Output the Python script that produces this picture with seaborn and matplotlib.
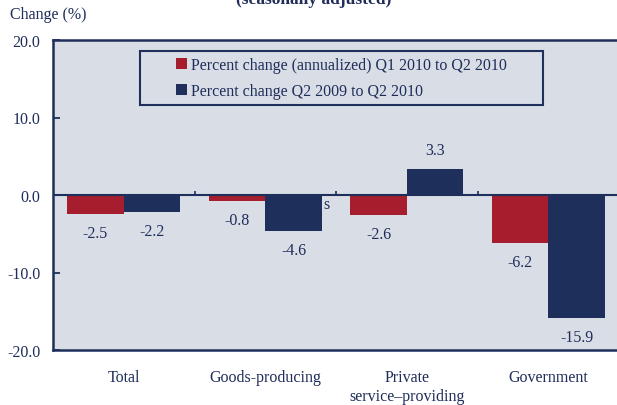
import matplotlib
matplotlib.use("Agg")
import matplotlib.pyplot as plt
import seaborn as sns
import pandas as pd
from matplotlib.patches import Rectangle

categories = ["Total", "Goods-producing", "Private\nservice\u2013providing", "Government"]
series_names = ["Percent change (annualized) Q1 2010 to Q2 2010",
                "Percent change Q2 2009 to Q2 2010"]
q1_to_q2_2010 = [-2.5, -0.8, -2.6, -6.2]
q2_2009_to_q2_2010 = [-2.2, -4.6, 3.3, -15.9]
y_ticks = [-20, -10, 0, 10, 20]

RED = "#A61E2E"
NAVY = "#1F2F5C"
BG = "#D9DEE6"
TXT = "#1F2D5A"
FS = 11.5

sns.set_theme(style="white")
plt.rcParams["font.family"] = ["Liberation Serif", "DejaVu Serif"]

df = pd.DataFrame({
    "category": categories * 2,
    "value": q1_to_q2_2010 + q2_2009_to_q2_2010,
    "series": [series_names[0]] * 4 + [series_names[1]] * 4,
})

fig = plt.figure(figsize=(6.17, 4.06), dpi=100)
ax = fig.add_axes([53 / 617, 55 / 406, 566 / 617, 310 / 406])
ax.set_facecolor(BG)

sns.barplot(data=df, x="category", y="value", hue="series",
            palette=[RED, NAVY], width=0.8, gap=0, saturation=1,
            linewidth=0, ax=ax, zorder=3)

ax.set_ylim(-20, 20)
ax.set_xlim(-0.5, 3.5)
ax.set_yticks(y_ticks)
ax.set_yticklabels([f"{v:.1f}" for v in y_ticks], color=TXT, fontsize=FS)
ax.tick_params(axis="y", direction="in", length=5, width=1.3, color=NAVY, pad=9, left=True)
ax.tick_params(axis="x", length=0, pad=14, labelsize=FS, labelcolor=TXT)
for lab in ax.get_xticklabels():
    lab.set_linespacing(1.22)
ax.set_xlabel("")
ax.set_ylabel("")

for side in ["left", "top", "bottom", "right"]:
    ax.spines[side].set_color(NAVY)
    ax.spines[side].set_linewidth(1.8)

ax.axhline(0, color=NAVY, lw=1.5, zorder=4)
ax.vlines([0.5, 1.5, 2.5], 0, 0.55, color=NAVY, lw=1.2, zorder=4)

for cont in ax.containers:
    ax.bar_label(cont, fmt="%.1f", padding=8, fontsize=FS, color=TXT)

ax.text(1.41, -1.16, "s", fontsize=FS, color=TXT, ha="left", va="center", zorder=2)

# legend
leg = ax.get_legend()
if leg is not None:
    leg.remove()
handles = [Rectangle((0, 0), 1, 1, facecolor=c, edgecolor="none") for c in [RED, NAVY]]
ax.add_patch(Rectangle((0.154, 0.79), 0.712, 0.175, transform=ax.transAxes,
                       fill=False, edgecolor=NAVY, lw=1.5, zorder=5))
ax.legend(handles, series_names, loc="center", bbox_to_anchor=(0.51, 0.8775),
          frameon=False, fontsize=FS, labelcolor=TXT, handlelength=0.65,
          handleheight=0.65, handletextpad=0.3, labelspacing=0.65)

fig.text(10 / 617, 1 - 15 / 406, "Change (%)", fontsize=FS, color=TXT, ha="left", va="center")
fig.text(314 / 617, 1 - 4 / 406, "(seasonally adjusted)", fontsize=12.5, fontweight="bold",
         color=TXT, ha="center", va="baseline")

fig.savefig("out.png", dpi=100, facecolor="white")
